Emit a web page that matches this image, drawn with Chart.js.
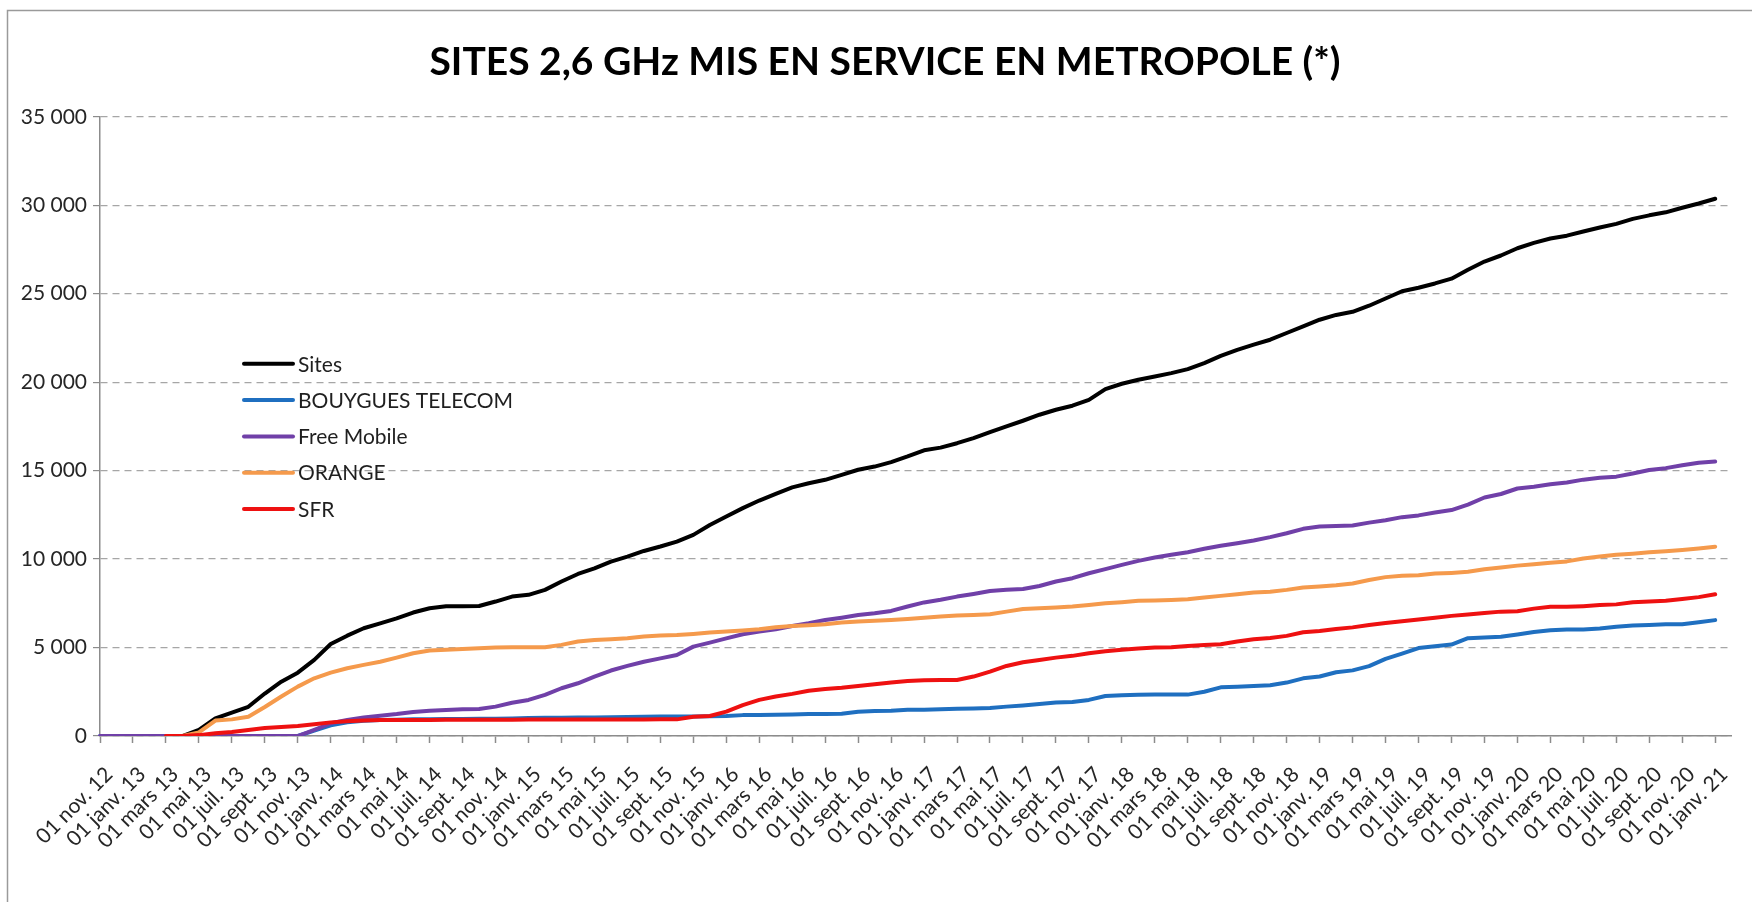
<!DOCTYPE html>
<html lang="fr">
<head>
    <meta charset="UTF-8">
    <title>Sites 2,6 GHz mis en service en métropole</title>
    <script src="https://cdn.jsdelivr.net/npm/chart.js"></script>
    <style>
        html, body { margin: 0; padding: 0; background: #fff; }
        #wrap { position: relative; width: 1752px; height: 902px; }
    </style>
</head>
<body>
    <div id="wrap"><canvas id="lineChart"></canvas></div>

    <script>
        // un point par mois, du 01 nov. 12 au 01 févr. 21 (dernier mois sans valeur)
        const labels = [
            '01 nov. 12', '01 déc. 12',
            '01 janv. 13', '01 févr. 13', '01 mars 13', '01 avr. 13', '01 mai 13', '01 juin 13', '01 juil. 13', '01 août 13', '01 sept. 13', '01 oct. 13', '01 nov. 13', '01 déc. 13',
            '01 janv. 14', '01 févr. 14', '01 mars 14', '01 avr. 14', '01 mai 14', '01 juin 14', '01 juil. 14', '01 août 14', '01 sept. 14', '01 oct. 14', '01 nov. 14', '01 déc. 14',
            '01 janv. 15', '01 févr. 15', '01 mars 15', '01 avr. 15', '01 mai 15', '01 juin 15', '01 juil. 15', '01 août 15', '01 sept. 15', '01 oct. 15', '01 nov. 15', '01 déc. 15',
            '01 janv. 16', '01 févr. 16', '01 mars 16', '01 avr. 16', '01 mai 16', '01 juin 16', '01 juil. 16', '01 août 16', '01 sept. 16', '01 oct. 16', '01 nov. 16', '01 déc. 16',
            '01 janv. 17', '01 févr. 17', '01 mars 17', '01 avr. 17', '01 mai 17', '01 juin 17', '01 juil. 17', '01 août 17', '01 sept. 17', '01 oct. 17', '01 nov. 17', '01 déc. 17',
            '01 janv. 18', '01 févr. 18', '01 mars 18', '01 avr. 18', '01 mai 18', '01 juin 18', '01 juil. 18', '01 août 18', '01 sept. 18', '01 oct. 18', '01 nov. 18', '01 déc. 18',
            '01 janv. 19', '01 févr. 19', '01 mars 19', '01 avr. 19', '01 mai 19', '01 juin 19', '01 juil. 19', '01 août 19', '01 sept. 19', '01 oct. 19', '01 nov. 19', '01 déc. 19',
            '01 janv. 20', '01 févr. 20', '01 mars 20', '01 avr. 20', '01 mai 20', '01 juin 20', '01 juil. 20', '01 août 20', '01 sept. 20', '01 oct. 20', '01 nov. 20', '01 déc. 20',
            '01 janv. 21', '01 févr. 21'
        ];

        const sites = [
            null, null, null, null, null, 0, 350, 1000, 1320, 1650, 2400, 3070, 3580, 4300,
            5200, 5670, 6090, 6370, 6650, 6980, 7220, 7330, 7330, 7350, 7600, 7880,
            7980, 8260, 8730, 9160, 9480, 9860, 10140, 10460, 10710, 10990, 11370, 11930,
            12410, 12880, 13310, 13690, 14050, 14290, 14480, 14760, 15050, 15230, 15480, 15800,
            16150, 16300, 16550, 16840, 17180, 17500, 17820, 18160, 18440, 18670, 19000, 19610,
            19910, 20140, 20320, 20510, 20740, 21080, 21490, 21830, 22120, 22400, 22780, 23150,
            23530, 23800, 23980, 24320, 24730, 25140, 25340, 25580, 25850, 26350, 26820, 27160,
            27570, 27870, 28120, 28280, 28520, 28740, 28950, 29230, 29430, 29600, 29860, 30100,
            30370
        ];

        const bouygues = [
            0, 0, 0, 0, 0, 0, 0, 0, 0, 0, 0, 0, 0, 300,
            600, 780, 860, 900, 920, 940, 950, 960, 960, 970, 980, 990,
            1020, 1030, 1030, 1040, 1050, 1060, 1070, 1090, 1100, 1100, 1100, 1110,
            1130, 1180, 1190, 1200, 1220, 1240, 1250, 1260, 1370, 1410, 1430, 1480,
            1490, 1510, 1540, 1550, 1580, 1660, 1730, 1810, 1900, 1920, 2040, 2260,
            2300, 2330, 2340, 2340, 2340, 2500, 2750, 2790, 2830, 2870, 3020, 3260,
            3360, 3600, 3710, 3950, 4360, 4660, 4970, 5070, 5170, 5530, 5570, 5610,
            5740, 5880, 5980, 6020, 6020, 6080, 6180, 6240, 6280, 6320, 6320, 6430,
            6550
        ];

        const free = [
            0, 0, 0, 0, 0, 0, 0, 0, 0, 0, 0, 0, 0, 350,
            720, 900, 1040, 1150, 1240, 1360, 1430, 1470, 1510, 1530, 1660, 1880,
            2040, 2320, 2700, 2980, 3360, 3700, 3960, 4200, 4390, 4580, 5050, 5280,
            5520, 5750, 5900, 6030, 6220, 6370, 6560, 6690, 6840, 6940, 7070, 7320,
            7550, 7700, 7880, 8030, 8200, 8260, 8310, 8480, 8730, 8920, 9200, 9430,
            9670, 9900, 10090, 10240, 10390, 10580, 10750, 10900, 11050, 11240, 11460, 11710,
            11840, 11870, 11900, 12060, 12200, 12370, 12470, 12630, 12770, 13080, 13480, 13680,
            13990, 14090, 14230, 14330, 14490, 14600, 14660, 14840, 15040, 15140, 15300, 15450,
            15510
        ];

        const orange = [
            null, null, null, null, null, 0, 200, 870, 940, 1090, 1640, 2230, 2790, 3260,
            3580, 3830, 4020, 4200, 4430, 4680, 4830, 4870, 4920, 4960, 5000, 5010,
            5015, 5020, 5150, 5340, 5430, 5470, 5520, 5620, 5680, 5710, 5770, 5850,
            5900, 5960, 6030, 6150, 6220, 6260, 6320, 6410, 6470, 6520, 6560, 6620,
            6680, 6750, 6810, 6840, 6880, 7030, 7180, 7220, 7260, 7320, 7410, 7500,
            7560, 7640, 7660, 7690, 7730, 7830, 7920, 8010, 8110, 8160, 8260, 8390,
            8450, 8520, 8620, 8820, 8980, 9060, 9080, 9180, 9220, 9280, 9430, 9530,
            9630, 9710, 9790, 9870, 10030, 10140, 10240, 10300, 10380, 10440, 10520, 10600,
            10700
        ];

        const sfr = [
            null, null, null, null, 0, 0, 50, 150, 230, 340, 450, 510, 570, 660,
            770, 830, 870, 900, 905, 910, 910, 915, 915, 920, 920, 925,
            930, 930, 930, 930, 935, 935, 935, 935, 940, 940, 1090, 1130,
            1380, 1750, 2040, 2230, 2380, 2560, 2660, 2730, 2830, 2920, 3020, 3110,
            3150, 3170, 3170, 3360, 3640, 3960, 4170, 4300, 4430, 4530, 4680, 4790,
            4870, 4940, 5000, 5020, 5090, 5150, 5190, 5340, 5470, 5540, 5660, 5860,
            5940, 6050, 6140, 6280, 6390, 6490, 6590, 6690, 6790, 6870, 6950, 7030,
            7050, 7200, 7300, 7300, 7340, 7400, 7440, 7560, 7600, 7640, 7740, 7850,
            8010
        ];

        const yTicks = [0, 5000, 10000, 15000, 20000, 25000, 30000, 35000];

        const police = 'Lato, "Open Sans", sans-serif';
        const gris = '#8c8c8c';

        function milliers(v) {
            return String(v).replace(/\B(?=(\d{3})+(?!\d))/g, ' ');
        }

        // cadre gris autour du graphique + fond blanc
        const cadre = {
            id: 'cadre',
            beforeDraw(chart) {
                const ctx = chart.ctx;
                ctx.save();
                ctx.fillStyle = '#fff';
                ctx.fillRect(0, 0, chart.width, chart.height);
                ctx.strokeStyle = '#9a9a9a';
                ctx.lineWidth = 1.5;
                ctx.strokeRect(7.5, 10.5, chart.width + 10, chart.height + 10);
                ctx.restore();
            }
        };

        // légende dans la zone de tracé, en haut à gauche
        const legendeInterne = {
            id: 'legendeInterne',
            afterDatasetsDraw(chart) {
                const ctx = chart.ctx;
                const area = chart.chartArea;
                const x0 = area.left + 144;
                let y = area.top + 247;
                ctx.save();
                ctx.font = '21px ' + police;
                ctx.textBaseline = 'middle';
                ctx.lineCap = 'round';
                chart.data.datasets.forEach(ds => {
                    ctx.strokeStyle = ds.borderColor;
                    ctx.lineWidth = 4;
                    ctx.beginPath();
                    ctx.moveTo(x0, y);
                    ctx.lineTo(x0 + 49, y);
                    ctx.stroke();
                    ctx.fillStyle = '#1f1f1f';
                    ctx.fillText(ds.label, x0 + 54, y + 1);
                    y += 36.3;
                });
                ctx.restore();
            }
        };

        const serie = (label, data, color, order) => ({
            label: label,
            data: data,
            borderColor: color,
            backgroundColor: color,
            borderWidth: 4,
            pointRadius: 0,
            tension: 0,
            order: order,
            borderJoinStyle: 'round',
            borderCapStyle: 'round'
        });

        const ctx = document.getElementById('lineChart').getContext('2d');
        const myLineChart = new Chart(ctx, {
            type: 'line',
            data: {
                labels: labels,
                datasets: [
                    serie('Sites', sites, '#000000', 5),
                    serie('BOUYGUES TELECOM', bouygues, '#1f6fc0', 4),
                    serie('Free Mobile', free, '#7040a8', 3),
                    serie('ORANGE', orange, '#f59a4c', 2),
                    serie('SFR', sfr, '#ee1111', 1)
                ]
            },
            options: {
                responsive: true,
                maintainAspectRatio: false,
                animation: false,
                devicePixelRatio: 1,
                layout: { padding: { left: 18, right: 0, top: 0, bottom: 0 } },
                plugins: {
                    legend: { display: false },
                    tooltip: { enabled: false },
                    title: {
                        display: true,
                        text: 'SITES 2,6 GHz MIS EN SERVICE EN METROPOLE (*)',
                        color: '#000',
                        font: { family: police, size: 39, weight: 'bold', lineHeight: 1.2 },
                        padding: { top: 39, bottom: 31 }
                    }
                },
                scales: {
                    x: {
                        type: 'category',
                        offset: false,
                        afterBuildTicks: axis => {
                            axis.ticks = axis.ticks.filter(t => t.value % 2 === 0);
                        },
                        afterFit: scale => { scale.height = 166; },
                        grid: {
                            drawOnChartArea: false,
                            tickLength: 7,
                            tickColor: gris,
                            tickWidth: 1.5
                        },
                        border: { color: gris, width: 1.5 },
                        ticks: {
                            autoSkip: false,
                            minRotation: 45,
                            maxRotation: 45,
                            padding: 19,
                            labelOffset: 9,
                            color: '#262626',
                            font: { family: police, size: 21 }
                        }
                    },
                    y: {
                        min: 0,
                        max: 35000,
                        afterBuildTicks: axis => {
                            axis.ticks = yTicks.map(v => ({ value: v }));
                        },
                        afterFit: scale => { scale.width = 82; },
                        grid: {
                            color: '#a6a6a6',
                            lineWidth: 1.2,
                            tickLength: 7,
                            tickColor: gris,
                            tickBorderDash: []
                        },
                        border: { color: gris, width: 1.5, dash: [7, 5] },
                        ticks: {
                            padding: 6,
                            color: '#262626',
                            font: { family: police, size: 21 },
                            callback: v => milliers(v)
                        }
                    }
                }
            },
            plugins: [cadre, legendeInterne]
        });
    </script>
</body>
</html>
